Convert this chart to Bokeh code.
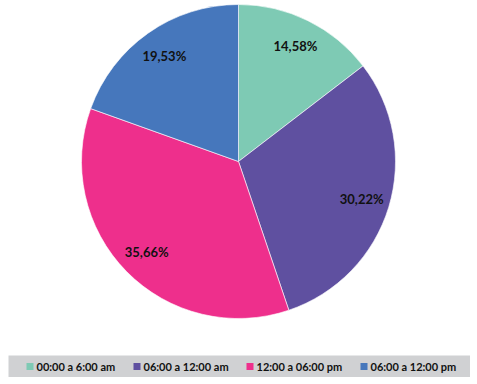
import math
from bokeh.plotting import figure
from bokeh.models import Range1d, ColumnDataSource
from bokeh.core.properties import value
from bokeh.embed import file_html
from bokeh.resources import INLINE

categories = ["00:00 a 6:00 am", "06:00 a 12:00 am", "12:00 a 06:00 pm", "06:00 a 12:00 pm"]
shares = [14.58, 30.22, 35.66, 19.53]
labels = ["14,58%", "30,22%", "35,66%", "19,53%"]
colors = ["#7ECAB4", "#5F50A0", "#EE2F8C", "#4677BC"]

W, H = 470, 377
cx, cy_top, R = 238, 161, 157
cy = H - cy_top

total = sum(shares)
starts, ends, lx, ly = [], [], [], []
cum = 0.0
for s in shares:
    a0 = math.pi / 2 - cum / total * 2 * math.pi
    a1 = math.pi / 2 - (cum + s) / total * 2 * math.pi
    starts.append(a0)
    ends.append(a1)
    mid = (a0 + a1) / 2
    lx.append(cx + 0.82 * R * math.cos(mid))
    ly.append(cy + 0.82 * R * math.sin(mid))
    cum += s

src = ColumnDataSource(dict(start=starts, end=ends, color=colors, lx=lx, ly=ly, label=labels))

p = figure(width=W, height=H, output_backend="svg", toolbar_location=None,
           x_range=Range1d(0, W), y_range=Range1d(0, H), min_border=0)
p.axis.visible = False
p.grid.visible = False
p.outline_line_color = None
p.background_fill_color = "white"

p.wedge(x=cx, y=cy, radius=R, start_angle="start", end_angle="end", direction="clock",
        fill_color="color", line_color="white", line_width=0.6, source=src)
p.text(x="lx", y="ly", text="label", source=src, text_align="center", text_baseline="middle",
       text_font=value("Lato"), text_font_style="bold", text_font_size="13px", text_color="#111111")

# legend box
box_left, box_top, box_bot = 8, 355, 377
p.quad(left=box_left, right=W, top=H - box_top, bottom=H - box_bot, fill_color="#D0D1D3", line_color=None)
sq_x = [26, 133, 246, 360]
ty = H - (box_top + box_bot) / 2
p.rect(x=[x + 3.5 for x in sq_x], y=[ty] * 4, width=7, height=7, fill_color=colors, line_color=None)
p.text(x=[x + 10 for x in sq_x], y=[ty] * 4, text=categories, text_align="left", text_baseline="middle",
       text_font=value("Lato"), text_font_style="bold", text_font_size="11px", text_color="#111111")

open("out.html", "w").write(file_html(p, INLINE))
